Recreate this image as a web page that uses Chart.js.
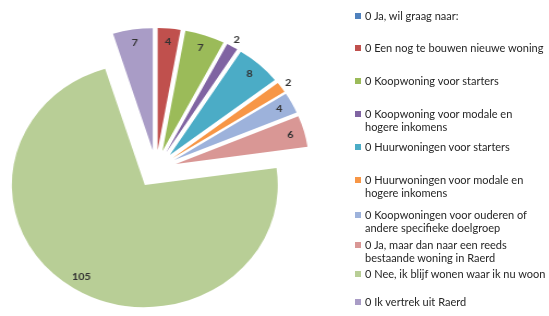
<!DOCTYPE html>
<html><head><meta charset="utf-8">
<script src="https://cdn.jsdelivr.net/npm/chart.js@4.4.0/dist/chart.umd.min.js"></script>
<style>
html,body{margin:0;padding:0;background:#fff;overflow:hidden;width:549px;height:316px;}
#pie{position:absolute;left:0;top:0;width:286px;height:316px;transform:scaleX(1.09);transform-origin:0 0;}
#legend{position:absolute;left:0;top:0;width:549px;height:316px;font-family:Lato,"Open Sans",sans-serif;font-size:11px;line-height:12.5px;color:#262626;}
.item{position:absolute;left:355px;white-space:pre;}
.mk{position:absolute;left:0;top:3px;width:6px;height:6px;}
.tx{position:absolute;left:10px;top:0;}
</style></head>
<body>
<div id="pie"><canvas id="c"></canvas></div>
<div id="legend"></div>
<script>
// ---- data ----
const labels = [
  "0 Ja, wil graag naar:",
  "0 Een nog te bouwen nieuwe woning",
  "0 Koopwoning voor starters",
  "0 Koopwoning voor modale en\nhogere inkomens",
  "0 Huurwoningen voor starters",
  "0 Huurwoningen voor modale en\nhogere inkomens",
  "0 Koopwoningen voor ouderen of\nandere specifieke doelgroep",
  "0 Ja, maar dan naar een reeds\nbestaande woning in Raerd",
  "0 Nee, ik blijf wonen waar ik nu woon",
  "0 Ik vertrek uit Raerd"
];
const values = [0, 4, 7, 2, 8, 2, 4, 6, 105, 7];
const colors = ["#4F81BD","#C0504D","#9BBB59","#8064A2","#4BACC6","#F79646","#9DB2DB","#D99795","#B8CE96","#A99CC6"];

// ---- layout ----
const legendTops = [10, 42, 75, 108, 141, 174, 209, 239, 268, 296];
const EXPLODE = 19;

const explode = {
  id: 'explode',
  beforeDatasetsDraw(chart) {
    chart.getDatasetMeta(0).data.forEach(a => {
      const m = (a.startAngle + a.endAngle) / 2;
      a._ox = a.x; a._oy = a.y;
      a.x += Math.cos(m) * EXPLODE; a.y += Math.sin(m) * EXPLODE;
    });
  },
  afterDatasetsDraw(chart) {
    const ctx = chart.ctx;
    const meta = chart.getDatasetMeta(0);
    ctx.save();
    ctx.font = 'bold 10px Lato, "Liberation Sans", sans-serif';
    ctx.fillStyle = '#333';
    ctx.textAlign = 'center'; ctx.textBaseline = 'middle';
    meta.data.forEach((a, i) => {
      const v = values[i];
      if (!v) return;
      const m = (a.startAngle + a.endAngle) / 2;
      const span = a.endAngle - a.startAngle;
      const r = span < 0.12 ? a.outerRadius + 8 : a.outerRadius - 13;
      ctx.fillText(String(v), a.x + Math.cos(m) * r, a.y + Math.sin(m) * r);
    });
    ctx.restore();
    meta.data.forEach(a => { a.x = a._ox; a.y = a._oy; });
  }
};

new Chart(document.getElementById('c'), {
  type: 'pie',
  data: { labels: labels, datasets: [{ data: values, backgroundColor: colors, borderWidth: 0, radius: 122 }] },
  options: {
    responsive: true, maintainAspectRatio: false, animation: false,
    layout: { padding: { top: 22 } },
    plugins: { legend: { display: false }, tooltip: { enabled: false } }
  },
  plugins: [explode]
});

const lg = document.getElementById('legend');
labels.forEach((t, i) => {
  const d = document.createElement('div');
  d.className = 'item';
  d.style.top = legendTops[i] + 'px';
  d.innerHTML = '<div class="mk" style="background:' + colors[i] + '"></div><div class="tx"></div>';
  d.querySelector('.tx').textContent = t;
  lg.appendChild(d);
});
</script>
</body></html>
